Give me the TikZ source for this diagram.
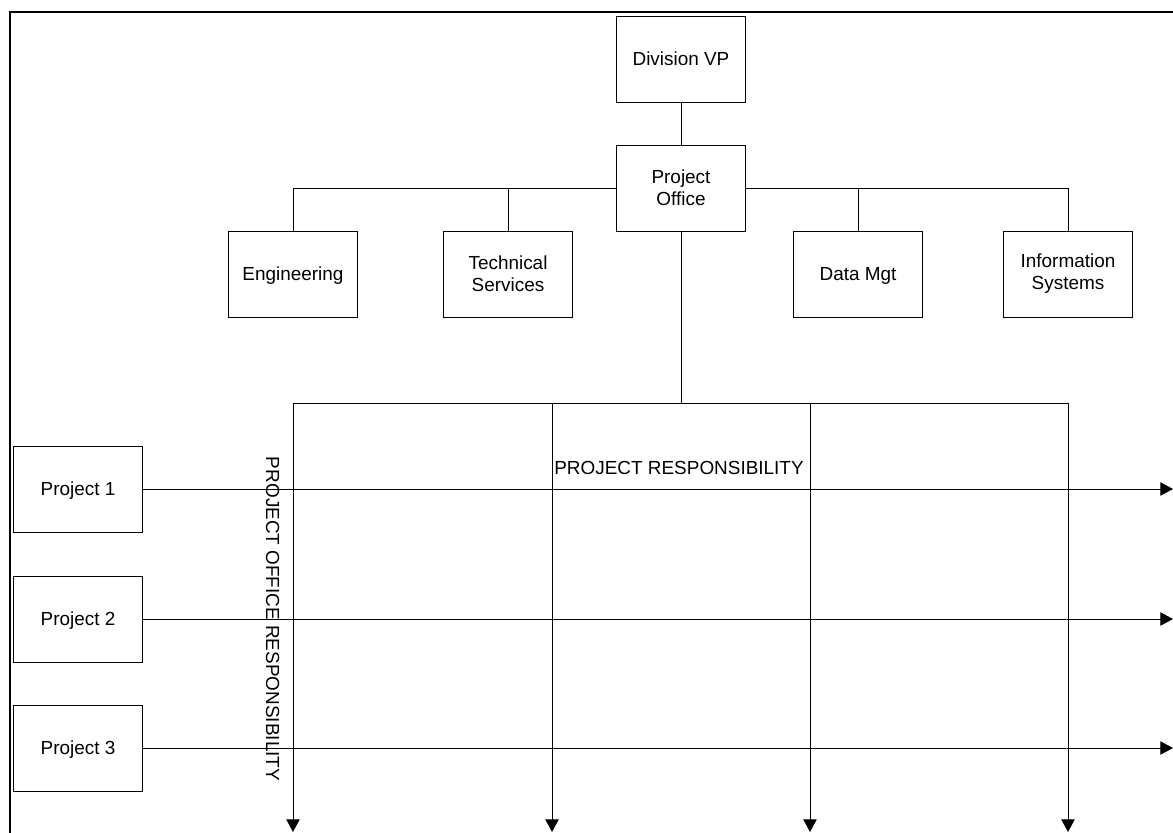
\documentclass[tikz,border=0pt]{standalone}
\usepackage{fontspec}
\setmainfont{Liberation Sans}
\usetikzlibrary{arrows.meta}

\begin{document}
\begin{tikzpicture}[
  x=0.75pt, y=-0.75pt, line width=0.75pt,
  unit/.style={draw, line width=0.75pt, minimum width=96.75pt, minimum height=64.5pt,
    inner sep=2pt, align=center, font=\fontsize{14.2}{16.5}\selectfont},
  oneline/.style={unit, text depth=0pt},
  label/.style={inner sep=0pt, font=\fontsize{14.2}{16.5}\selectfont},
  flow/.style={-{Triangle[length=9.5pt, width=10pt]}},
]
  \clip (0,0) rectangle (1173,832);
  % outer frame, cut by the page at right and bottom
  \draw[line width=1.5pt] (1200,12) -- (10,12) -- (10,860);

  % top of the chart
  \node[oneline] (vp)   at (681,59)  {Division VP};
  \node[unit]    (po)   at (681,188) {Project\\Office};
  \node[oneline] (eng)  at (293,274) {Engineering};
  \node[unit]    (tech) at (508,274) {Technical\\Services};
  \node[oneline] (data) at (858,274) {Data Mgt};
  \node[unit]    (info) at (1068,274) {Information\\Systems};

  \draw (vp) -- (po);
  \draw (po.west) -| (eng.north);
  \draw (po.west) -| (tech.north);
  \draw (po.east) -| (data.north);
  \draw (po.east) -| (info.north);

  % project office columns
  \coordinate (c1) at (293,403);
  \coordinate (c2) at (552,403);
  \coordinate (c3) at (810,403);
  \coordinate (c4) at (1068,403);
  \coordinate (e1) at (293,832);
  \coordinate (e2) at (552,832);
  \coordinate (e3) at (810,832);
  \coordinate (e4) at (1068,832);
  \draw (po.south) |- (c1);
  \draw (po.south) |- (c4);
  \foreach \i in {1,...,4} \draw[flow] (c\i) -- (e\i);

  % project rows
  \node[oneline] (p1) at (78,489) {Project 1};
  \node[oneline] (p2) at (78,619) {Project 2};
  \node[oneline] (p3) at (78,748) {Project 3};
  \coordinate (r1) at (1173,489);
  \coordinate (r2) at (1173,619);
  \coordinate (r3) at (1173,748);
  \foreach \i in {1,2,3} \draw[flow] (p\i.east) -- (r\i);

  \node[label, anchor=base] (prj) at (679,474) {PROJECT RESPONSIBILITY};
  \node[label, anchor=base, rotate=-90] (off) at (266,619) {PROJECT OFFICE RESPONSIBILITY};
\end{tikzpicture}
\end{document}
